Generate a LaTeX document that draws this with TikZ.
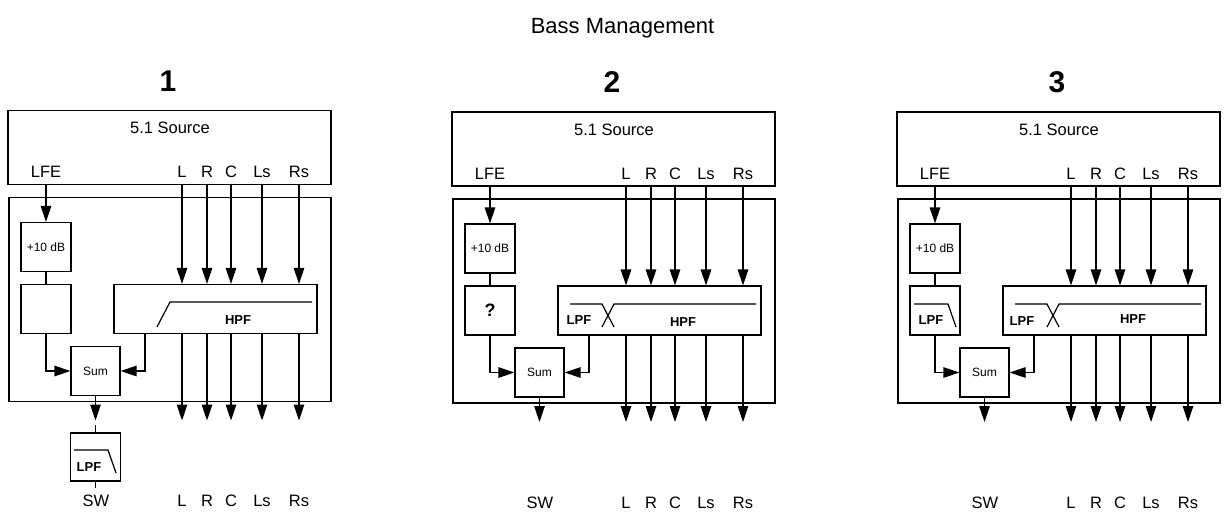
\documentclass[tikz,border=0pt]{standalone}
\usepackage{fontspec}
\setmainfont{Liberation Sans}
\usetikzlibrary{arrows.meta}
\tikzstyle{box} = [rectangle, draw=black, line width=1.2pt, inner sep=0pt]
\tikzstyle{wire} = [line width=1.2pt]
\tikzstyle{arrow} = [line width=1.2pt, -{Triangle[length=16pt, width=10.5pt]}]
\tikzstyle{chan} = [anchor=base, inner sep=0pt, font=\fontsize{16.5}{18}\selectfont]
\tikzstyle{filt} = [anchor=base, inner sep=0pt, font=\bfseries\fontsize{13}{15}\selectfont]
\tikzstyle{small} = [font=\fontsize{12}{14}\selectfont]

\begin{document}
\begin{tikzpicture}[x=1pt, y=-1pt]
\useasboundingbox (0,0) rectangle (1226,528);
\node (title) [anchor=base, font=\fontsize{22}{24}\selectfont] at (622.5,33.5) {Bass Management};

% the three panels share the same frame
\foreach \k/\dx/\dy in {1/0/1.5, 2/444/0, 3/889/0} {
\begin{scope}[xshift=\dx pt, yshift=\dy pt]
	\node (num\k) [anchor=base, font=\bfseries\fontsize{30}{32}\selectfont] at (168,92.5) {\k};
	\node (src\k) [box, minimum width=323pt, minimum height=74pt] at (169.5,149) {};
	\node (srclab\k) [chan] at (170,135) {5.1 Source};
	\node (lfe\k) [chan] at (46,179) {LFE};
	\node (chL\k) [chan] at (182,179) {L};
	\node (chR\k) [chan] at (207,179) {R};
	\node (chC\k) [chan] at (231,179) {C};
	\node (chLs\k) [chan] at (262,179) {Ls};
	\node (chRs\k) [chan] at (299,179) {Rs};

	\node (dsp\k) [box, minimum width=322pt, minimum height=204pt] at (170,301) {};
	\node (gain\k) [box, small, minimum width=50pt, minimum height=49pt] at (46,248.5) {+10 dB};
	\node (mid\k) [box, minimum width=50pt, minimum height=49pt] at (46,310.5) {};
	\node (hpf\k) [box, minimum width=203pt, minimum height=49pt] at (215.5,310.5) {};
	\node (sum\k) [box, small, minimum width=49pt, minimum height=49pt] at (95.5,372.5) {Sum};
	\coordinate (tap\k) at (145,335);
	\coordinate (outs\k) at (0,422);

	\node (outSW\k) [chan] at (96,508) {SW};
	\node (outL\k) [chan] at (182,508) {L};
	\node (outR\k) [chan] at (207,508) {R};
	\node (outC\k) [chan] at (231,508) {C};
	\node (outLs\k) [chan] at (262,508) {Ls};
	\node (outRs\k) [chan] at (299,508) {Rs};

	\draw [arrow] (lfe\k |- src\k.south) -- (gain\k.north);
	\draw [wire] (gain\k) -- (mid\k);
	\draw [arrow] (mid\k) |- (sum\k);
	\draw [arrow] (tap\k) |- (sum\k);
	\draw [arrow] (sum\k) -- (sum\k |- outs\k);
	\foreach \ch in {L,R,C,Ls,Rs} {
		\draw [arrow] (ch\ch\k |- src\k.south) -- (ch\ch\k |- hpf\k.north);
		\draw [arrow] (ch\ch\k |- hpf\k.south) -- (ch\ch\k |- outs\k);
	}
\end{scope}
}

% panel 1: plain HPF, LPF after the sum
\begin{scope}[yshift=1.5pt]
	\draw [wire] (157,328.5) -- (170,303.5) -- (312,303.5);
	\node (hpftxt1) [filt] at (238,325.5) {HPF};
	\node (lpf1) [box, minimum width=50pt, minimum height=48pt] at (95.5,458.5) {};
	\draw [wire] (lpf1.north) -- ++(0,-7);
	\draw [wire] (lpf1.south) -- ++(0,6);
	\draw [wire] (74,451.5) -- (108,451.5) -- (116,474.5);
	\node (lpftxt1) [filt] at (89,472.5) {LPF};
\end{scope}

% panel 2: unknown LFE filter, crossover
\begin{scope}[xshift=444pt]
	\node (what2) [anchor=base, inner sep=0pt, font=\bfseries\fontsize{18}{20}\selectfont] at (46,316.7) {?};
	\draw [wire] (126,304) -- (158,304) -- (170,327);
	\draw [wire] (158,327) -- (170,304) -- (312,304);
	\node (lpftxt2) [filt] at (135,324.5) {LPF};
	\node (hpftxt2) [filt] at (239,326.5) {HPF};
\end{scope}

% panel 3: LPF on LFE, crossover
\begin{scope}[xshift=889pt]
	\draw [wire] (25,304) -- (59,304) -- (67,327);
	\node (lpfmid3) [filt] at (42,324.5) {LPF};
	\draw [wire] (126,304) -- (158,304) -- (170,327);
	\draw [wire] (158,327) -- (170,304) -- (312,304);
	\node (lpftxt3) [filt] at (133,325.5) {LPF};
	\node (hpftxt3) [filt] at (244,323.5) {HPF};
\end{scope}
\end{tikzpicture}
\end{document}
